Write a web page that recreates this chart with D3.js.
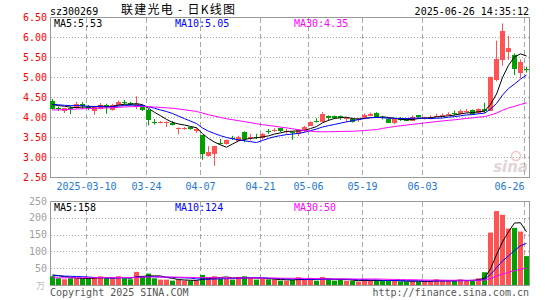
<!DOCTYPE html>
<html>
<head>
<meta charset="utf-8">
<script src="https://cdn.jsdelivr.net/npm/d3@7"></script>
<style>
  body { margin: 0; background: #fff; }
  text { font-family: 'DejaVu Sans Mono', monospace; font-size: 10px; }
</style>
</head>
<body>
<script>
// trading days shown on the chart
const dates = [
  '2025-02-28',
  '2025-03-03', '2025-03-04', '2025-03-05', '2025-03-06', '2025-03-07', '2025-03-10', '2025-03-11',
  '2025-03-12', '2025-03-13', '2025-03-14', '2025-03-17', '2025-03-18', '2025-03-19', '2025-03-20',
  '2025-03-21', '2025-03-24', '2025-03-25', '2025-03-26', '2025-03-27', '2025-03-28', '2025-03-31',
  '2025-04-01', '2025-04-02', '2025-04-03', '2025-04-07', '2025-04-08', '2025-04-09', '2025-04-10',
  '2025-04-11', '2025-04-14', '2025-04-15', '2025-04-16', '2025-04-17', '2025-04-18', '2025-04-21',
  '2025-04-22', '2025-04-23', '2025-04-24', '2025-04-25', '2025-04-28', '2025-04-29', '2025-04-30',
  '2025-05-06', '2025-05-07', '2025-05-08', '2025-05-09', '2025-05-12', '2025-05-13', '2025-05-14',
  '2025-05-15', '2025-05-16', '2025-05-19', '2025-05-20', '2025-05-21', '2025-05-22', '2025-05-23',
  '2025-05-26', '2025-05-27', '2025-05-28', '2025-05-29', '2025-05-30',
  '2025-06-03', '2025-06-04', '2025-06-05', '2025-06-06', '2025-06-09', '2025-06-10', '2025-06-11',
  '2025-06-12', '2025-06-13', '2025-06-16', '2025-06-17', '2025-06-18', '2025-06-19', '2025-06-20',
  '2025-06-23', '2025-06-24', '2025-06-25', '2025-06-26'
];

const open = [4.39,4.22,4.14,4.22,4.22,4.33,4.27,4.14,4.21,4.30, 4.17,4.29,4.38,4.35,4.27,4.27,4.17,3.87,3.85,3.85,
  3.86,3.71,3.72,3.74,3.66,3.54,3.02,3.06,3.36,3.33, 3.47,3.40,3.63,3.47,3.50,3.47,3.65,3.66,3.72,3.64,
  3.62,3.57,3.64,3.78,3.91,3.88,4.03,4.03,4.03,3.95, 3.96,3.93,3.96,4.03,4.10,4.00,3.96,3.84,3.96,3.96,
  3.92,4.04,3.96,3.95,4.01,4.02,4.06,4.09,4.08,4.14, 4.18,4.10,4.19,4.16,4.91,5.43,5.61,5.55,5.11,5.19];
const high = [4.45,4.26,4.23,4.27,4.38,4.37,4.30,4.26,4.35,4.33, 4.33,4.41,4.43,4.38,4.52,4.30,4.20,3.95,3.90,3.89,
  3.90,3.74,3.75,3.75,3.74,3.55,3.27,3.28,3.45,3.44, 3.53,3.53,3.64,3.58,3.58,3.60,3.70,3.72,3.73,3.70,
  3.64,3.69,3.78,3.89,3.97,4.12,4.04,4.04,4.04,3.99, 3.98,3.97,4.09,4.11,4.12,4.03,3.98,3.97,4.00,3.98,
  4.04,4.05,4.01,4.04,4.08,4.09,4.12,4.16,4.19,4.20, 4.19,4.22,4.36,5.01,5.91,6.34,6.03,5.59,5.44,5.26];
const low = [4.18,4.15,4.10,4.07,4.21,4.20,4.17,4.06,4.19,4.08, 4.16,4.28,4.31,4.28,4.20,4.15,3.79,3.81,3.84,3.75,
  3.79,3.57,3.68,3.68,3.60,2.93,3.01,2.78,3.31,3.31, 3.43,3.39,3.37,3.41,3.45,3.44,3.58,3.63,3.62,3.58,
  3.43,3.52,3.62,3.77,3.86,3.87,3.90,3.95,3.93,3.88, 3.86,3.88,3.94,4.02,3.98,3.94,3.85,3.82,3.90,3.90,
  3.91,3.96,3.94,3.94,4.00,4.01,4.05,4.04,4.07,4.11, 4.05,4.08,4.10,4.15,4.89,5.28,5.43,5.05,4.97,5.11];
const close = [4.20,4.21,4.22,4.21,4.33,4.27,4.22,4.25,4.31,4.25, 4.30,4.37,4.37,4.30,4.33,4.17,3.92,3.86,3.88,3.87,
  3.80,3.72,3.73,3.70,3.71,3.06,3.12,3.27,3.35,3.42, 3.46,3.51,3.45,3.49,3.49,3.57,3.64,3.68,3.64,3.66,
  3.61,3.67,3.74,3.88,3.90,4.08,3.98,3.98,3.97,3.97, 3.89,3.95,4.04,4.07,3.98,3.98,3.87,3.94,3.95,3.92,
  4.01,3.98,3.99,4.01,4.03,4.05,4.08,4.07,4.15,4.16, 4.08,4.20,4.13,5.01,5.44,6.16,5.72,5.19,5.38,5.18];
// volume, 万手
const volume = [26,20,17,20,20,20,20,21,26,20, 20,26,20,17,39,26,34,20,16,16,
  13,16,13,13,12,30,24,26,20,20, 16,24,26,20,16,18,17,17,13,13,
  15,23,17,20,13,24,17,13,17,13, 12,10,17,14,14,12,12,14,10,10,
  12,10,12,12,17,12,12,14,16,12, 15,20,38,156,220,209,168,170,159,86];

// the 29 sessions before the window, only used to seed the moving averages
const prevClose = [4.02,4.05,4.08,4.04,4.10,4.12,4.08,4.06,4.11,4.15,4.09,4.07,4.13,4.16,4.12,
  4.10,4.14,4.18,4.15,4.12,4.30,4.35,4.28,4.33,4.31,4.36,4.29,4.34,4.38];
const prevVolume = [16,19,17,21,18,15,20,17,19,22,16,18,20,17,15,19,21,18,16,20,22,26,24,28,25,30,33,29,32];

const priceTicks = [2.5, 3.0, 3.5, 4.0, 4.5, 5.0, 5.5, 6.0, 6.5];
const volumeTicks = [50, 100, 150, 200, 250];
const dateTicks = ['2025-03-10', '2025-03-24', '2025-04-07', '2025-04-21', '2025-05-06', '2025-05-19', '2025-06-03', '2025-06-26'];

document.addEventListener('DOMContentLoaded', function () {
  const UP = '#ff5353', DOWN = '#00a000', GRID = '#a8a8a8';

  //MOVING AVERAGES
  function movingAvg(prev, vals, n) {
    let all = prev.concat(vals);
    return vals.map((v, i) => d3.mean(all.slice(i + prev.length - n + 1, i + prev.length + 1)));
  }
  let ma5 = movingAvg(prevClose, close, 5);
  let ma10 = movingAvg(prevClose, close, 10);
  let ma30 = movingAvg(prevClose, close, 30);
  let vma5 = movingAvg(prevVolume, volume, 5);
  let vma10 = movingAvg(prevVolume, volume, 10);
  let vma30 = movingAvg(prevVolume, volume, 30);
  let last = dates.length - 1;

  let svg = d3.select('body').append('svg').attr('width', 545).attr('height', 300);

  //SCALES
  let x = d3.scaleBand().domain(dates).range([49.5, 529.5]);
  let cx = (d) => x(d) + x.bandwidth() / 2;
  let yP = d3.scaleLinear().domain([2.5, 6.5]).range([177, 17]);
  let yV = d3.scaleLinear().domain([0, 250]).range([285, 201]);

  //GRID
  let grid = svg.append('g');
  grid.selectAll('line.hp')
    .data(priceTicks.filter((t) => t > 2.5 && t < 6.5))
    .join('line')
    .attr('x1', 51).attr('x2', 529)
    .attr('y1', (d) => Math.round(yP(d)) + 0.5).attr('y2', (d) => Math.round(yP(d)) + 0.5)
    .attr('stroke', GRID).attr('stroke-dasharray', '1,2');
  grid.selectAll('line.hv')
    .data(volumeTicks.filter((t) => t < 250))
    .join('line')
    .attr('x1', 51).attr('x2', 529)
    .attr('y1', (d) => Math.round(yV(d)) + 0.5).attr('y2', (d) => Math.round(yV(d)) + 0.5)
    .attr('stroke', GRID).attr('stroke-dasharray', '1,2');
  [[18, 177], [202, 285]].forEach((r) => {
    grid.append('g').selectAll('line')
      .data(dateTicks)
      .join('line')
      .attr('x1', (d) => x(d) + 1).attr('x2', (d) => x(d) + 1)
      .attr('y1', r[0]).attr('y2', r[1])
      .attr('stroke', GRID).attr('stroke-dasharray', '5,3');
  });

  //FRAMES
  svg.append('rect').attr('x', 50.5).attr('y', 17.5).attr('width', 479).attr('height', 160)
    .attr('fill', 'none').attr('stroke', '#999');
  svg.append('rect').attr('x', 50.5).attr('y', 201.5).attr('width', 479).attr('height', 84)
    .attr('fill', 'none').attr('stroke', '#999');

  //SINA WATERMARK
  let wm = svg.append('g').attr('opacity', 0.55);
  wm.append('circle').attr('cx', 516).attr('cy', 156).attr('r', 4.5).attr('fill', 'none').attr('stroke', '#e89a9a').attr('stroke-width', 1.5);
  wm.append('text').attr('x', 528).attr('y', 172).attr('text-anchor', 'end')
    .style('font-family', 'DejaVu Sans').style('font-size', '15px').style('font-style', 'italic').style('font-weight', 'bold')
    .attr('fill', '#c9b4b4').text('sina');

  //CANDLES
  let candles = svg.append('g').selectAll('g')
    .data(dates)
    .join('g');
  candles.append('line')
    .attr('x1', (d) => cx(d)).attr('x2', (d) => cx(d))
    .attr('y1', (d, i) => yP(high[i])).attr('y2', (d, i) => yP(low[i]))
    .attr('stroke', (d, i) => (close[i] >= open[i] ? UP : DOWN));
  candles.append('rect')
    .attr('x', (d) => x(d) + 0.5)
    .attr('width', x.bandwidth() - 1)
    .attr('y', (d, i) => Math.round(yP(Math.max(open[i], close[i]))))
    .attr('height', (d, i) => Math.max(1, Math.round(Math.abs(yP(open[i]) - yP(close[i])))))
    .attr('fill', (d, i) => (close[i] >= open[i] ? UP : DOWN));

  //VOLUME BARS
  svg.append('g').selectAll('rect')
    .data(dates)
    .join('rect')
    .attr('x', (d) => x(d) + 0.5)
    .attr('width', x.bandwidth() - 1)
    .attr('y', (d, i) => yV(volume[i]))
    .attr('height', (d, i) => yV(0) - yV(volume[i]))
    .attr('fill', (d, i) => (close[i] >= open[i] ? UP : DOWN));

  //MA LINES
  let lineP = d3.line().x((d, i) => cx(dates[i])).y((d) => yP(d));
  let lineV = d3.line().x((d, i) => cx(dates[i])).y((d) => yV(d));
  [[ma5, '#000'], [ma10, '#0000ff'], [ma30, '#ff00ff']].forEach((m) => {
    svg.append('path').attr('d', lineP(m[0])).attr('fill', 'none').attr('stroke', m[1]);
  });
  [[vma5, '#000'], [vma10, '#0000ff'], [vma30, '#ff00ff']].forEach((m) => {
    svg.append('path').attr('d', lineV(m[0])).attr('fill', 'none').attr('stroke', m[1]);
  });

  //AXIS LABELS
  svg.append('g').selectAll('text')
    .data(priceTicks)
    .join('text')
    .attr('x', 47).attr('y', (d) => yP(d)).attr('dy', '0.36em')
    .attr('text-anchor', 'end').attr('fill', '#ff0000')
    .text((d) => d.toFixed(2));
  svg.append('g').selectAll('text')
    .data(volumeTicks)
    .join('text')
    .attr('x', 47).attr('y', (d) => yV(d)).attr('dy', '0.36em')
    .attr('text-anchor', 'end').attr('fill', '#a0a0a0')
    .text((d) => d);
  svg.append('text').attr('x', 45).attr('y', 289).attr('text-anchor', 'end')
    .style('font-family', 'Noto Sans CJK SC').style('font-size', '9px').attr('fill', '#bbb').text('万');
  svg.append('g').selectAll('text')
    .data(dateTicks)
    .join('text')
    .attr('x', (d, i) => x(d) + 1)
    .attr('y', 190)
    .attr('text-anchor', (d, i) => (i === dateTicks.length - 1 ? 'end' : 'middle'))
    .attr('fill', '#1e78d2')
    .text((d, i) => (i === 0 ? d : d.slice(5)));

  //HEADER AND MA TEXT
  svg.append('text').attr('x', 50).attr('y', 15).text('sz300269');
  svg.append('text').attr('x', 121).attr('y', 14)
    .attr('textLength', 114).attr('lengthAdjust', 'spacing')
    .style('font-family', 'Noto Sans CJK SC').style('font-size', '12px').text('联建光电 - 日K线图');
  svg.append('text').attr('x', 529).attr('y', 15).attr('text-anchor', 'end').text('2025-06-26 14:35:12');

  svg.append('text').attr('x', 54).attr('y', 27).attr('fill', '#000').text('MA5:' + ma5[last].toFixed(2));
  svg.append('text').attr('x', 175).attr('y', 27).attr('fill', '#0000ff').text('MA10:' + ma10[last].toFixed(2));
  svg.append('text').attr('x', 294).attr('y', 27).attr('fill', '#ff00ff').text('MA30:' + ma30[last].toFixed(2));
  svg.append('text').attr('x', 54).attr('y', 211).attr('fill', '#000').text('MA5:' + Math.round(vma5[last]));
  svg.append('text').attr('x', 175).attr('y', 211).attr('fill', '#0000ff').text('MA10:' + Math.round(vma10[last]));
  svg.append('text').attr('x', 294).attr('y', 211).attr('fill', '#ff00ff').text('MA30:' + Math.round(vma30[last]));

  //FOOTER
  svg.append('text').attr('x', 50).attr('y', 296).attr('fill', '#555').text('Copyright 2025 SINA.COM');
  svg.append('text').attr('x', 529).attr('y', 296).attr('text-anchor', 'end').attr('fill', '#555').text('http://finance.sina.com.cn');
});
</script>
</body>
</html>
